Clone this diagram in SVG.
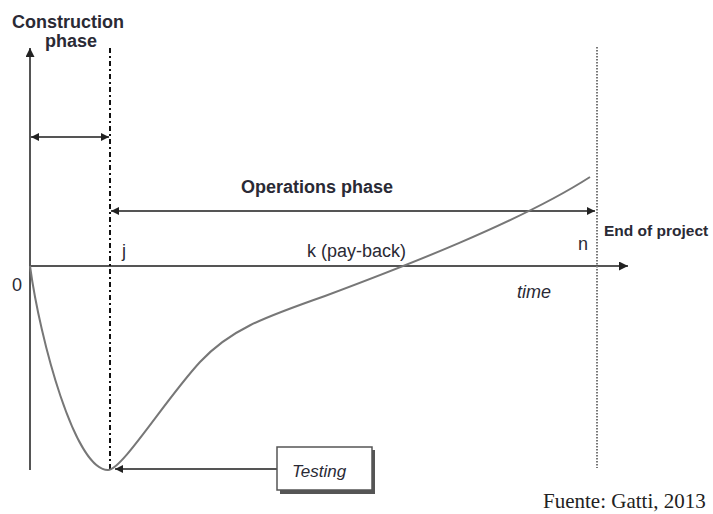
<svg xmlns="http://www.w3.org/2000/svg" width="713" height="514" viewBox="0 0 713 514">
<style>
.t{font-family:"Liberation Sans",Arial,sans-serif;fill:#2a2a35;font-size:18px}
.b{font-weight:bold}
.i{font-style:italic}
.ax{stroke:#555;stroke-width:2;fill:none}
.ar{stroke:#555;stroke-width:1.8;fill:none}
</style>
<defs>
<marker id="ah" viewBox="0 0 10 10" refX="10" refY="5" markerWidth="11" markerHeight="9" markerUnits="userSpaceOnUse" orient="auto-start-reverse">
<path d="M0,0 L10,5 L0,10 Z" fill="#222"/>
</marker>
<marker id="ahs" viewBox="0 0 10 10" refX="10" refY="5" markerWidth="9" markerHeight="8" markerUnits="userSpaceOnUse" orient="auto-start-reverse">
<path d="M0,0 L10,5 L0,10 Z" fill="#222"/>
</marker>
</defs>
<rect width="713" height="514" fill="#fff"/>
<g id="connectors">
<line id="y-axis" class="ax" x1="30" y1="470" x2="30" y2="48" marker-end="url(#ah)"/>
<line id="time-axis" class="ax" x1="30" y1="266" x2="628" y2="266" marker-end="url(#ah)"/>
<line id="construction-arrow" class="ar" x1="31" y1="137" x2="109" y2="137" marker-start="url(#ahs)" marker-end="url(#ahs)"/>
<line id="operations-arrow" class="ar" x1="111" y1="211" x2="595" y2="211" marker-start="url(#ahs)" marker-end="url(#ahs)"/>
<line id="j-line" x1="110" y1="48" x2="110" y2="470" stroke="#111" stroke-width="2" stroke-dasharray="5,3,2,3"/>
<line id="end-line" x1="597" y1="47" x2="597" y2="468" stroke="#777" stroke-width="2" stroke-dasharray="1.5,1.5"/>
<path id="cash-curve" d="M30,266 C40,340 75,470 108,470 C122,470 165,400 200,362 C230,330 262,318 325,296 C400,268 520,222 590,177" fill="none" stroke="#777" stroke-width="2"/>
<line id="testing-arrow" class="ar" x1="277" y1="469" x2="115" y2="469" marker-end="url(#ahs)"/>
</g>
<g id="testing">
<rect x="280" y="450" width="95" height="44" fill="#555"/>
<rect x="277" y="447" width="95" height="43" fill="#fff" stroke="#555" stroke-width="1.5"/>
<text class="t i" x="292" y="477" style="font-size:17px">Testing</text>
</g>
<g id="labels">
<text class="t b" x="68" y="28" text-anchor="middle">Construction</text>
<text class="t b" x="71" y="47" text-anchor="middle">phase</text>
<text class="t b" x="317" y="193" text-anchor="middle">Operations phase</text>
<text class="t b" x="604" y="236" style="font-size:15.5px">End of project</text>
<text class="t" x="12" y="291">0</text>
<text class="t" x="122" y="257">j</text>
<text class="t" x="307" y="257">k (pay-back)</text>
<text class="t" x="578" y="250">n</text>
<text class="t i" x="517" y="298">time</text>
<text x="543" y="508" font-family="'Liberation Serif','Times New Roman',serif" font-size="21" fill="#222">Fuente: Gatti, 2013</text>
</g>
</svg>
